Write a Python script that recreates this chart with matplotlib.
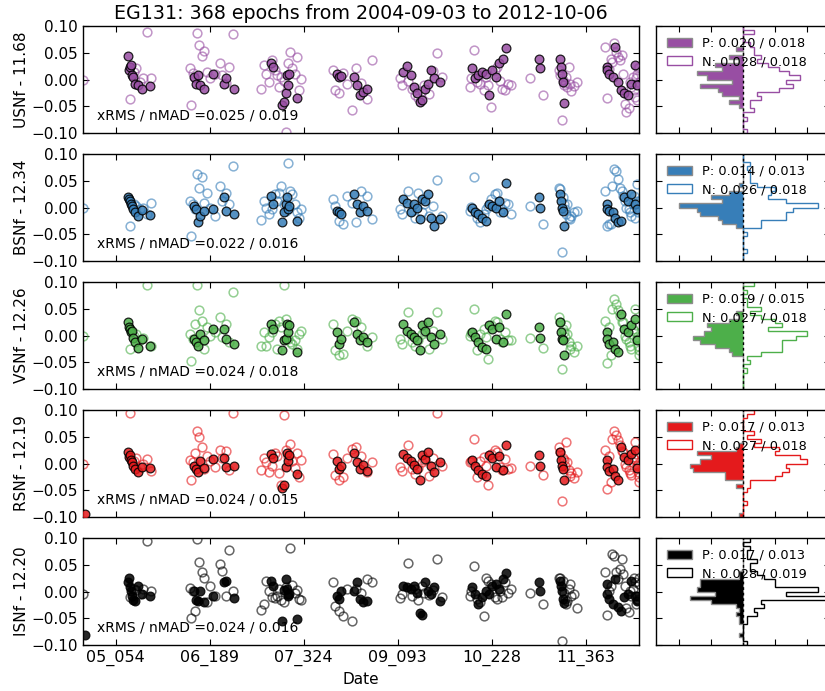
import numpy as np
import matplotlib
matplotlib.use("Agg")
import matplotlib.pyplot as plt
from matplotlib.patches import Patch
from matplotlib.ticker import MultipleLocator, FixedLocator, NullFormatter
from datetime import date

# ---------------------------------------------------------------- metadata
first_epoch = "2004-09-03"
last_epoch = "2012-10-06"
n_epochs = 368
star = "EG131"

tick_labels = ["05_054", "06_189", "07_324", "09_093", "10_228", "11_363"]

band_names = ["USNf", "BSNf", "VSNf", "RSNf", "ISNf"]
band_mags = ["11.68", "12.34", "12.26", "12.19", "12.20"]
band_colors = ["#984ea3", "#377eb8", "#4daf4a", "#e41a1c", "#000000"]

xrms_nmad = [("0.025", "0.019"), ("0.022", "0.016"), ("0.024", "0.018"),
             ("0.024", "0.015"), ("0.024", "0.016")]
p_stats = [("0.020", "0.018"), ("0.014", "0.013"), ("0.019", "0.015"),
           ("0.017", "0.013"), ("0.017", "0.013")]
n_stats = [("0.028", "0.018"), ("0.026", "0.018"), ("0.027", "0.018"),
           ("0.027", "0.018"), ("0.028", "0.019")]

# ---------------------------------------------------------------- epochs (decimal year)
dates_p = [
    2004.70,
    2005.33, 2005.34, 2005.35, 2005.37, 2005.38, 2005.40, 2005.43, 2005.47, 2005.53, 2005.64,
    2006.29, 2006.31, 2006.35, 2006.38, 2006.44, 2006.57, 2006.72, 2006.76, 2006.87,
    2007.41, 2007.43, 2007.57, 2007.60, 2007.62, 2007.64, 2007.65, 2007.67, 2007.79,
    2008.37, 2008.40, 2008.43, 2008.62, 2008.66, 2008.70, 2008.74, 2008.80,
    2009.33, 2009.38, 2009.44, 2009.49, 2009.53, 2009.57, 2009.61, 2009.65, 2009.69, 2009.73, 2009.78, 2009.86,
    2010.33, 2010.37, 2010.42, 2010.48, 2010.53, 2010.58, 2010.63, 2010.68, 2010.73, 2010.78, 2010.82,
    2011.30, 2011.32, 2011.62, 2011.63, 2011.64, 2011.65, 2011.67,
    2012.29, 2012.30, 2012.33, 2012.38, 2012.42, 2012.45, 2012.50, 2012.55, 2012.60, 2012.65, 2012.70, 2012.74,
]

dates_n = [
    2004.672,
    2005.36, 2005.42, 2005.45, 2005.50, 2005.55, 2005.60, 2005.66,
    2006.23, 2006.25, 2006.27, 2006.30, 2006.33, 2006.36, 2006.40, 2006.43, 2006.47, 2006.52,
    2006.60, 2006.66, 2006.70, 2006.75, 2006.80, 2006.85,
    2007.26, 2007.30, 2007.34, 2007.38, 2007.42, 2007.46, 2007.50, 2007.53, 2007.56, 2007.59,
    2007.62, 2007.66, 2007.69, 2007.72, 2007.75, 2007.78, 2007.82, 2007.85,
    2008.31, 2008.34, 2008.39, 2008.45, 2008.52, 2008.58, 2008.65, 2008.72, 2008.80, 2008.87,
    2009.29, 2009.32, 2009.40, 2009.46, 2009.51, 2009.55, 2009.60, 2009.64, 2009.70, 2009.76, 2009.82, 2009.89,
    2010.30, 2010.32, 2010.36, 2010.40, 2010.45, 2010.50, 2010.54, 2010.57, 2010.61, 2010.66,
    2010.70, 2010.74, 2010.77, 2010.81, 2010.85, 2010.90,
    2011.18, 2011.36, 2011.60, 2011.62, 2011.64, 2011.66, 2011.67, 2011.69, 2011.70, 2011.72,
    2011.74, 2011.76, 2011.78, 2011.82, 2011.86,
    2012.27, 2012.29, 2012.32, 2012.35, 2012.37, 2012.40, 2012.43, 2012.46, 2012.48, 2012.51,
    2012.53, 2012.56, 2012.58, 2012.61, 2012.63, 2012.65, 2012.67, 2012.69, 2012.70, 2012.72,
    2012.73, 2012.74, 2012.75, 2012.76, 2012.76,
]

# ---------------------------------------------------------------- residuals, P epochs
usn_p = [
    -0.120,
    0.044, 0.018, 0.024, 0.027, 0.008, 0.005, -0.008, -0.011, -0.017, -0.013,
    0.005, -0.008, 0.008, -0.011, -0.017, 0.011, -0.008, 0.002, -0.017,
    0.031, 0.024, -0.047, -0.042, -0.026, 0.008, -0.011, 0.011, -0.034,
    0.011, 0.005, 0.006, 0.004, -0.011, -0.029, -0.023, -0.017,
    0.014, 0.025, 0.008, -0.014, -0.026, -0.042, -0.039, -0.018, -0.008, 0.018, 0.002, -0.005,
    0.021, 0.002, 0.008, 0.014, 0.011, -0.029, 0.018, 0.005, 0.030, 0.039, 0.058,
    0.039, 0.021, 0.039, 0.024, 0.011, -0.004, -0.043,
    0.024, 0.018, 0.011, 0.005, 0.061, -0.004, -0.020, -0.026, -0.029, -0.008, 0.027, -0.011,
]
bsn_p = [
    -0.120,
    0.019, 0.016, 0.012, 0.006, 0.003, -0.003, -0.009, -0.016, -0.005, -0.014,
    0.003, -0.003, -0.028, -0.016, -0.006, -0.003, 0.019, -0.006, -0.012,
    0.022, 0.006, -0.028, -0.009, 0.006, 0.019, -0.003, 0.003, -0.025,
    -0.006, -0.009, -0.012, 0.025, 0.006, -0.009, 0.003, -0.006,
    0.016, 0.009, -0.009, 0.006, 0.000, -0.022, 0.016, 0.012, 0.025, -0.019, -0.034, -0.022,
    0.000, -0.009, -0.012, -0.019, -0.025, 0.006, 0.003, 0.000, 0.012, -0.009, 0.046,
    0.019, 0.000, 0.025, 0.012, 0.000, -0.006, -0.034,
    0.006, -0.003, -0.006, -0.009, -0.019, -0.028, -0.025, 0.019, 0.012, 0.025, 0.006, -0.003,
]
vsn_p = [
    -0.120,
    0.026, 0.016, 0.012, 0.006, 0.009, -0.005, -0.012, -0.023, -0.006, -0.019,
    -0.006, -0.012, -0.019, 0.003, -0.009, 0.012, 0.012, -0.006, -0.016,
    0.022, 0.012, -0.028, -0.009, -0.006, 0.022, 0.006, 0.019, -0.031,
    0.006, -0.016, -0.006, 0.025, 0.003, -0.009, -0.003, -0.012,
    0.022, 0.009, 0.003, -0.003, -0.009, -0.028, 0.019, 0.009, 0.025, -0.003, -0.016, 0.003,
    0.006, -0.003, -0.012, -0.022, -0.025, 0.019, 0.012, -0.006, 0.016, -0.012, 0.041,
    0.016, -0.005, 0.025, 0.006, -0.006, -0.009, -0.037,
    0.006, -0.006, -0.016, -0.012, -0.025, -0.031, 0.041, 0.012, 0.006, 0.019, 0.031, -0.009,
]
rsn_p = [
    -0.095,
    0.022, 0.012, 0.016, 0.006, 0.002, -0.004, -0.010, -0.016, -0.006, -0.008,
    -0.004, -0.010, -0.016, 0.004, -0.008, 0.008, 0.010, -0.006, -0.004,
    0.018, 0.010, -0.045, -0.040, -0.006, 0.020, 0.004, 0.016, -0.020,
    0.004, -0.010, -0.004, 0.020, 0.002, -0.010, -0.002, -0.014,
    0.018, 0.010, 0.004, -0.002, -0.010, -0.030, 0.016, 0.008, 0.022, -0.004, -0.016, 0.002,
    0.006, -0.004, -0.012, -0.020, -0.024, 0.016, 0.010, -0.006, 0.014, -0.012, 0.034,
    0.016, -0.004, 0.022, 0.006, -0.004, -0.010, -0.030,
    0.006, -0.006, -0.014, -0.010, -0.024, -0.030, 0.030, 0.012, 0.006, 0.018, 0.026, -0.008,
]
isn_p = [
    -0.081,
    0.017, 0.026, 0.008, 0.001, -0.008, -0.015, -0.018, 0.011, -0.005, -0.009,
    0.001, -0.015, -0.018, 0.001, -0.020, -0.008, 0.017, 0.020, -0.013,
    0.020, 0.011, -0.055, 0.002, 0.023, 0.004, -0.008, -0.005, -0.052,
    -0.008, -0.014, 0.001, 0.001, 0.017, -0.014, -0.020, -0.018,
    0.011, 0.008, 0.004, 0.011, -0.002, -0.041, -0.044, 0.017, 0.001, -0.005, 0.008, -0.018,
    0.008, -0.005, -0.024, -0.011, 0.001, -0.005, 0.011, 0.014, 0.004, 0.023, 0.034,
    0.018, 0.001, 0.020, 0.011, 0.001, -0.014, -0.021,
    0.014, -0.005, -0.014, -0.023, 0.023, -0.029, -0.036, -0.011, -0.005, 0.020, -0.008, -0.018,
]

# ---------------------------------------------------------------- residuals, N epochs
usn_n = [
    0.000,
    -0.036, 0.014, 0.022, -0.005, 0.002, 0.089, 0.003,
    0.021, -0.047, 0.012, 0.003, 0.086, 0.064, 0.044, 0.054, 0.014, 0.002,
    0.010, 0.030, 0.008, -0.006, 0.024, 0.085,
    -0.017, 0.027, 0.011, -0.004, 0.036, 0.018, 0.008, -0.014, 0.004, -0.002,
    -0.098, 0.030, 0.052, 0.021, 0.010, 0.042, -0.020, 0.001,
    0.018, -0.020, -0.026, 0.012, -0.008, -0.057, 0.021, -0.006, -0.036, 0.036,
    0.002, -0.011, -0.003, -0.018, -0.029, -0.035, -0.022, -0.010, -0.028, 0.015, 0.049, 0.004,
    -0.014, 0.002, 0.055, -0.004, -0.008, -0.020, 0.005, -0.011, -0.051, 0.018,
    0.024, -0.002, -0.017, -0.020, -0.008, -0.011,
    0.002, -0.029, 0.018, 0.008, -0.076, 0.000, -0.010, -0.006, 0.005, -0.014,
    0.024, -0.008, -0.022, -0.012, -0.005,
    0.061, -0.034, 0.020, 0.039, 0.032, 0.068, 0.052, 0.042, 0.036, 0.045,
    0.011, -0.045, -0.061, -0.054, -0.004, -0.014, 0.005, -0.020, -0.032, 0.002,
    0.011, -0.039, 0.021, -0.004, 0.024,
]
bsn_n = [
    0.000,
    -0.034, 0.006, 0.003, -0.003, 0.000, -0.012, 0.008,
    0.012, -0.053, 0.006, -0.003, 0.062, 0.037, 0.057, 0.009, 0.028, 0.000,
    -0.016, 0.041, 0.012, 0.028, 0.006, 0.078,
    -0.024, 0.012, 0.000, -0.012, -0.003, 0.025, 0.012, 0.028, 0.041, 0.006,
    -0.006, 0.083, 0.031, 0.025, 0.006, -0.009, -0.019, -0.003,
    0.016, 0.003, -0.025, -0.031, 0.022, 0.009, -0.028, 0.031, 0.022, -0.022,
    -0.003, -0.012, 0.031, -0.006, -0.019, 0.028, -0.009, 0.006, -0.016, 0.003, 0.051, -0.016,
    -0.006, 0.001, 0.057, -0.019, -0.028, -0.012, -0.003, 0.003, 0.016, 0.025,
    0.028, -0.009, -0.003, 0.009, 0.006, -0.012,
    0.003, -0.030, 0.037, 0.034, -0.084, 0.019, 0.006, -0.003, -0.012, 0.006,
    -0.019, -0.022, -0.016, -0.009, -0.006,
    0.031, -0.034, -0.031, -0.031, 0.041, 0.072, 0.069, 0.053, 0.037, 0.031,
    0.022, 0.012, 0.000, -0.003, -0.009, -0.016, 0.006, 0.022, -0.019, 0.009,
    0.044, 0.012, -0.009, 0.012, -0.003,
]
vsn_n = [
    0.000,
    -0.025, 0.000, 0.003, -0.009, -0.005, 0.094, -0.019,
    0.003, -0.047, -0.006, 0.022, 0.095, 0.047, 0.028, -0.025, 0.016, 0.000,
    0.006, 0.034, -0.003, 0.022, -0.012, 0.081,
    -0.019, 0.006, -0.019, -0.003, 0.006, 0.022, -0.025, 0.028, 0.016, 0.095,
    0.031, -0.006, -0.012, -0.016, -0.009, -0.025, 0.003, 0.009,
    0.022, -0.028, -0.037, -0.034, 0.009, 0.031, 0.028, 0.016, -0.019, -0.003,
    -0.006, -0.016, 0.044, -0.012, -0.019, -0.009, 0.003, 0.006, -0.025, 0.009, 0.044, -0.006,
    0.000, 0.004, 0.049, -0.028, 0.003, 0.012, -0.003, -0.044, 0.019, 0.028,
    0.025, -0.006, -0.012, 0.006, -0.009, -0.009,
    -0.005, -0.024, 0.034, 0.025, -0.062, 0.012, 0.006, -0.003, 0.019, 0.003,
    -0.012, -0.025, -0.019, -0.031, -0.019,
    0.028, -0.051, 0.016, -0.037, 0.050, 0.069, 0.059, 0.047, 0.037, 0.025,
    0.025, 0.000, -0.006, -0.012, -0.019, -0.025, 0.012, 0.009, 0.050, 0.019,
    -0.006, -0.003, -0.019, -0.037, -0.028,
]
rsn_n = [
    0.000,
    0.095, 0.004, 0.010, -0.006, 0.000, 0.008, -0.014,
    0.006, -0.030, 0.002, 0.020, 0.060, 0.050, 0.030, -0.010, 0.014, 0.004,
    -0.006, 0.026, 0.010, 0.024, -0.012, 0.095,
    -0.012, 0.010, 0.002, -0.016, -0.004, 0.020, 0.014, -0.018, -0.040, 0.090,
    0.026, 0.012, 0.036, 0.004, -0.008, 0.020, -0.026, 0.006,
    0.018, -0.022, -0.030, -0.026, 0.010, 0.028, 0.030, 0.014, -0.016, 0.002,
    -0.006, -0.014, 0.034, -0.010, -0.020, -0.008, 0.002, 0.006, -0.024, 0.010, 0.095, -0.004,
    0.002, 0.004, 0.046, -0.026, 0.004, 0.012, -0.004, -0.040, 0.018, 0.026,
    0.022, -0.006, -0.012, 0.008, -0.010, -0.008,
    -0.004, -0.022, 0.030, 0.022, -0.070, 0.010, 0.006, -0.004, 0.040, 0.002,
    -0.012, -0.024, -0.018, -0.028, -0.016,
    0.026, -0.048, 0.014, -0.034, 0.046, 0.060, 0.054, 0.044, 0.034, 0.024,
    0.022, 0.000, -0.006, -0.012, -0.018, -0.022, 0.012, 0.008, 0.040, 0.018,
    -0.004, -0.002, -0.016, -0.034, -0.026,
]
isn_n = [
    -0.005,
    -0.010, 0.005, 0.002, -0.005, 0.004, 0.095, 0.001,
    0.007, -0.050, 0.001, -0.036, 0.098, 0.056, 0.036, 0.026, -0.020, 0.010,
    -0.008, 0.051, 0.039, -0.008, 0.078, 0.001,
    -0.034, -0.024, 0.020, 0.001, -0.010, -0.012, -0.008, 0.005, -0.015, -0.020,
    0.008, -0.005, 0.081, 0.012, -0.002, 0.003, -0.014, -0.015,
    0.018, -0.027, -0.036, -0.045, 0.004, -0.055, 0.005, -0.002, 0.023, 0.017,
    -0.012, -0.005, 0.054, -0.008, 0.004, -0.015, 0.010, -0.002, -0.006, 0.003, 0.061, -0.010,
    -0.008, 0.001, 0.047, -0.014, -0.020, -0.046, 0.026, 0.020, 0.014, -0.011,
    -0.014, 0.001, -0.011, 0.017, -0.002, 0.004,
    -0.003, -0.023, 0.026, 0.026, -0.093, 0.020, -0.002, -0.014, -0.024, -0.018,
    0.004, 0.014, -0.008, -0.005, -0.030,
    0.036, -0.043, 0.001, 0.011, 0.070, 0.067, 0.036, 0.023, 0.042, 0.061,
    0.032, 0.011, -0.030, -0.039, 0.001, -0.008, 0.004, 0.026, 0.017, -0.024,
    -0.008, -0.014, -0.015, 0.014, 0.026,
]

resid_p = [usn_p, bsn_p, vsn_p, rsn_p, isn_p]
resid_n = [usn_n, bsn_n, vsn_n, rsn_n, isn_n]
for rp, rn in zip(resid_p, resid_n):
    assert len(rp) == len(dates_p) and len(rn) == len(dates_n)


# ---------------------------------------------------------------- helpers
def _year_len(y):
    return 366 if (y % 4 == 0 and (y % 100 != 0 or y % 400 == 0)) else 365


def iso_to_year(s):
    d = date.fromisoformat(s)
    return d.year + (d.timetuple().tm_yday - 1) / _year_len(d.year)


def yydoy_to_year(s):
    yy, doy = s.split("_")
    y = 2000 + int(yy)
    return y + (int(doy) - 1) / _year_len(y)


x_lo, x_hi = iso_to_year(first_epoch), iso_to_year(last_epoch)
tick_pos = [yydoy_to_year(s) for s in tick_labels]
y_lo, y_hi = -0.10, 0.10
bin_edges = np.linspace(y_lo, y_hi, 27)

# ---------------------------------------------------------------- figure
W, H = 825, 691
fig = plt.figure(figsize=(W / 100, H / 100), dpi=100)
plt.rcParams["font.family"] = ["DejaVu Sans"]

main_l, main_r = 83, 639
hist_l, hist_r = 656, 830
top0, step_px, h_px = 26, 128, 107

counts = []
for rp, rn in zip(resid_p, resid_n):
    cp, _ = np.histogram(rp, bins=bin_edges)
    cn, _ = np.histogram(rn, bins=bin_edges)
    counts.append((cp, cn))
hist_lim = max(max(cn.max(), cp.max()) for cp, cn in counts) * 1.02
hist_step = hist_lim / 2.72

for i, name in enumerate(band_names):
    col = band_colors[i]
    top = top0 + step_px * i
    bottom = 1 - (top + h_px) / H
    ax = fig.add_axes([main_l / W, bottom, (main_r - main_l) / W, h_px / H])
    axh = fig.add_axes([hist_l / W, bottom, (hist_r - hist_l) / W, h_px / H])

    # time series: open markers for N epochs, filled for P epochs
    ax.plot(dates_n, resid_n[i], ls="none", marker="o", ms=6.3, mfc="none",
            mec=col, mew=1.1, alpha=0.6, zorder=2)
    ax.plot(dates_p, resid_p[i], ls="none", marker="o", ms=6.3, mfc=col,
            mec="k", mew=0.9, alpha=0.85, zorder=3)

    ax.set_xlim(x_lo, x_hi)
    ax.set_ylim(y_lo, y_hi)
    ax.yaxis.set_major_locator(MultipleLocator(0.05))
    ax.yaxis.set_major_formatter(plt.FuncFormatter(
        lambda v, _: f"{v:.2f}".replace("-", "\u2212") if abs(v) > 1e-9 else "0.00"))
    ax.xaxis.set_major_locator(FixedLocator(tick_pos))
    if i == len(band_names) - 1:
        ax.set_xticklabels(tick_labels)
        ax.set_xlabel("Date", fontsize=11, labelpad=4)
    else:
        ax.xaxis.set_major_formatter(NullFormatter())
    ax.tick_params(direction="in", top=True, right=True, length=4,
                   labelsize=11, width=0.8)
    ax.tick_params(axis="x", labelsize=11.5)
    ax.set_ylabel(f"{name} - {band_mags[i]}", fontsize=11, labelpad=2)
    for sp in ax.spines.values():
        sp.set_linewidth(1.0)
    ax.text(0.025, 0.16, f"xRMS / nMAD ={xrms_nmad[i][0]} / {xrms_nmad[i][1]}",
            transform=ax.transAxes, fontsize=10, va="center", ha="left")
    if i == 0:
        ax.set_title(f"{star}: {n_epochs} epochs from {first_epoch} to {last_epoch}",
                     fontsize=13.7, pad=5)

    # residual histograms: P to the left, N to the right
    cp, cn = counts[i]
    axh.stairs(-cp, bin_edges, orientation="horizontal", fill=True,
               facecolor=col, edgecolor="0.55", lw=1.0, zorder=2)
    axh.stairs(cn, bin_edges, orientation="horizontal", fill=False,
               edgecolor=col, lw=1.0, zorder=2)
    axh.axvline(0, color="k", lw=1.0, ls=(0, (2, 2)), zorder=3)
    axh.set_ylim(y_lo, y_hi)
    axh.set_xlim(-hist_lim, hist_lim)
    axh.yaxis.set_major_locator(MultipleLocator(0.05))
    axh.xaxis.set_major_locator(FixedLocator(np.arange(-2, 3) * hist_step))
    axh.tick_params(direction="in", top=True, right=True, length=4,
                    labelleft=False, labelbottom=False, width=0.8)
    for sp in axh.spines.values():
        sp.set_linewidth(1.0)
    handles = [Patch(facecolor=col, edgecolor="0.55"),
               Patch(facecolor="white", edgecolor=col)]
    labels = [f"P: {p_stats[i][0]} / {p_stats[i][1]}",
              f"N: {n_stats[i][0]} / {n_stats[i][1]}"]
    axh.legend(handles, labels, loc="upper left", frameon=False, fontsize=9.3,
               handlelength=1.9, handleheight=0.7, handletextpad=0.8,
               borderaxespad=0.45, labelspacing=0.4)

fig.savefig("out.png", dpi=100)
